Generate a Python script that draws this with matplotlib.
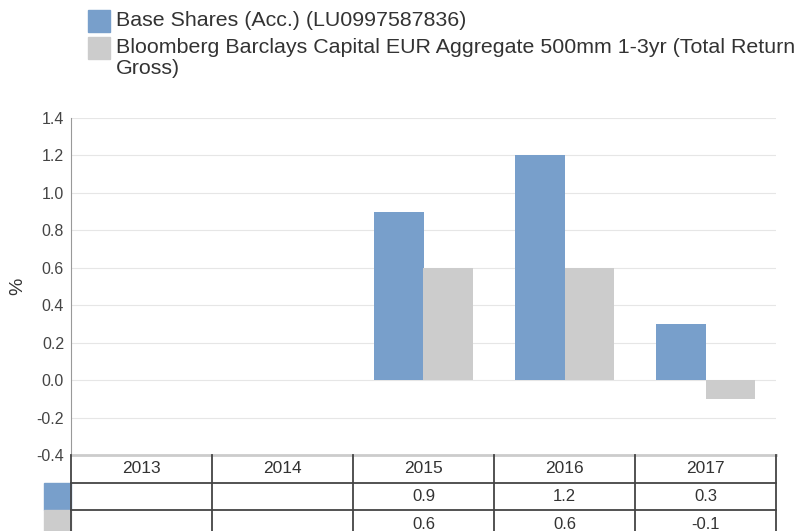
import matplotlib
matplotlib.use("Agg")
import matplotlib.pyplot as plt
import numpy as np

plt.rcParams["font.family"] = ["Liberation Sans", "DejaVu Sans"]

# ─── Data ──────────────────────────────────────────────────────────────────────
years = ["2013", "2014", "2015", "2016", "2017"]
fund = [np.nan, np.nan, 0.9, 1.2, 0.3]
bench = [np.nan, np.nan, 0.6, 0.6, -0.1]
fund_label = "Base Shares (Acc.) (LU0997587836)"
bench_label = "Bloomberg Barclays Capital EUR Aggregate 500mm 1-3yr (Total Return\nGross)"
yticks = [-0.4, -0.2, 0.0, 0.2, 0.4, 0.6, 0.8, 1.0, 1.2, 1.4]

BLUE = "#789fcb"
GREY = "#cccccc"
TXT = "#333333"
W, H = 798, 531

fig = plt.figure(figsize=(W / 100, H / 100), dpi=100)

def px_axes(x0, y0, x1, y1):
    return fig.add_axes([x0 / W, 1 - y1 / H, (x1 - x0) / W, (y1 - y0) / H])

# ─── Bar chart ────────────────────────────────────────────────────────────────
ax = px_axes(71, 118, 776, 455)
x = np.arange(len(years))
bw = 0.35
ax.bar(x - bw / 2, fund, bw, color=BLUE, zorder=3)
ax.bar(x + bw / 2, bench, bw, color=GREY, zorder=3)
ax.set_xlim(-0.5, len(years) - 0.5)
ax.set_ylim(-0.4, 1.4)
ax.set_yticks(yticks)
ax.set_yticklabels([f"{v:.1f}" for v in yticks], fontsize=11.5, color="#444444")
ax.set_xticks([])
ax.grid(axis="y", color="#e6e6e6", lw=0.8, zorder=0)
for s in ["top", "right", "bottom"]:
    ax.spines[s].set_visible(False)
ax.spines["left"].set_color("#999999")
ax.tick_params(axis="y", length=0, pad=5)
ax.set_ylabel("%", fontsize=14, color=TXT, labelpad=7)

# ─── Legend ───────────────────────────────────────────────────────────────────
fig.patches.append(plt.Rectangle((88 / W, 1 - 32 / H), 22 / W, 22 / H,
                                 transform=fig.transFigure, color=BLUE))
fig.patches.append(plt.Rectangle((88 / W, 1 - 59 / H), 22 / W, 22 / H,
                                 transform=fig.transFigure, color=GREY))
fig.text(116 / W, 1 - 21 / H, fund_label, fontsize=15.4, color=TXT, va="center")
fig.text(116 / W, 1 - 38 / H, bench_label, fontsize=15.4, color=TXT, va="top",
         linespacing=1.1)

# ─── Table below ──────────────────────────────────────────────────────────────
tab = px_axes(71, 455, 776, 538)
tab.set_xlim(-0.5, len(years) - 0.5)
tab.set_ylim(3, 0)
tab.axis("off")
line = dict(color="#444444", lw=1.3, clip_on=False)
tab.plot([-0.5, len(years) - 0.5], [0, 0], color="#cccccc", lw=2, clip_on=False)
for r in [1, 2, 3]:
    tab.plot([-0.5, len(years) - 0.5], [r, r], **line)
for c in range(len(years) + 1):
    tab.plot([c - 0.5, c - 0.5], [0, 3], **line)

sw = 27 / 141
tab.add_patch(plt.Rectangle((-0.5 - sw, 1), sw, 1, color=BLUE, clip_on=False))
tab.add_patch(plt.Rectangle((-0.5 - sw, 2), sw, 1, color=GREY, clip_on=False))

for i, yr in enumerate(years):
    tab.text(i, 0.5, yr, ha="center", va="center", fontsize=12.5, color=TXT)
    for r, vals in [(1.5, fund), (2.5, bench)]:
        if not np.isnan(vals[i]):
            tab.text(i, r, f"{vals[i]:.1f}", ha="center", va="center",
                     fontsize=12, color=TXT)

fig.savefig("out.png", dpi=100)
